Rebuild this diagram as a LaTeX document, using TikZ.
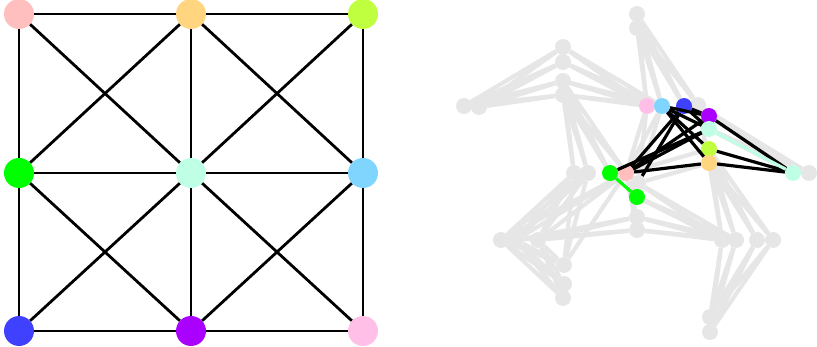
\documentclass[tikz,border=0pt]{standalone}
\usepackage{tikz}
\usetikzlibrary{backgrounds}

\definecolor{vpink}{RGB}{255,191,191}
\definecolor{vorange}{RGB}{255,213,128}
\definecolor{vlime}{RGB}{191,255,64}
\definecolor{vgreen}{RGB}{0,255,0}
\definecolor{vmint}{RGB}{191,255,230}
\definecolor{vsky}{RGB}{128,213,255}
\definecolor{vblue}{RGB}{64,64,255}
\definecolor{vpurple}{RGB}{170,0,255}
\definecolor{vrose}{RGB}{255,191,230}
\definecolor{vgrey}{RGB}{230,230,230}

\begin{document}
\begin{tikzpicture}[
  x=1pt, y=-1pt,
  dot/.style={circle, inner sep=0pt, minimum size=30pt},
  sdot/.style={circle, inner sep=0pt, minimum size=16pt},
  gridedge/.style={line width=2.8pt},
  greyedge/.style={line width=4.2pt, vgrey},
  link/.style={line width=3.2pt}
]
\useasboundingbox (0,0) rectangle (817,347);

% Grid graph
\node[dot, fill=vpink]   (tl) at (19,14)   {};
\node[dot, fill=vorange] (tm) at (191,14)  {};
\node[dot, fill=vlime]   (tr) at (363,14)  {};
\node[dot, fill=vgreen]  (ml) at (19,173)  {};
\node[dot, fill=vmint]   (mc) at (191,173) {};
\node[dot, fill=vsky]    (mr) at (363,173) {};
\node[dot, fill=vblue]   (bl) at (19,331)  {};
\node[dot, fill=vpurple] (bm) at (191,331) {};
\node[dot, fill=vrose]   (br) at (363,331) {};

\foreach \a/\b in {tl/tm, tm/tr, ml/mc, mc/mr, bl/bm, bm/br,
                   tl/ml, ml/bl, tm/mc, mc/bm, tr/mr, mr/br,
                   tl/mc, tm/ml, tm/mr, tr/mc,
                   ml/bm, mc/bl, mc/br, mr/bm}
  \draw[gridedge] (\a) -- (\b);

% Embedded graph: grey part
\foreach \n/\x/\y in {g1/637/14, g2/637/28,
                      g3/563/47, g4/563/62, g5/563/81, g6/563/95,
                      g7/464/106, g8/479/107, g9/698/105, g10/809/173,
                      g11/638/183, g12/574/173, g13/588/173,
                      g14/637/217, g15/637/230,
                      g16/501/240, g17/516/240, g18/538/240,
                      g20/564/265, g21/564/284, g22/563/298,
                      g23/722/240, g24/736/240, g25/757/240, g26/773/240,
                      g27/710/317, g28/710/332}
  \node[sdot, fill=vgrey] (\n) at (\x,\y) {};

% Embedded graph: coloured part
\node[sdot, fill=vrose]   (pi)  at (647,106) {};
\node[sdot, fill=vsky]    (pf)  at (662,106) {};
\node[sdot, fill=vblue]   (pg)  at (684,106) {};
\node[sdot, fill=vpurple] (ph)  at (709,116) {};
\node[sdot, fill=vmint]   (pe)  at (709,129) {};
\node[sdot, fill=vlime]   (pc)  at (709,149) {};
\node[sdot, fill=vorange] (pb)  at (709,163) {};
\node[sdot, fill=vmint]   (pe2) at (793,173) {};
\node[sdot, fill=vgreen]  (pd)  at (610,173) {};
\node[sdot, fill=vpink]   (pa)  at (626,173) {};
\node[sdot, fill=vgreen]  (pd2) at (637,197) {};

\begin{scope}[on background layer]
  \foreach \s in {g1,g2} \foreach \t in {pi,pf,pg,g9}
    \draw[greyedge] (\s) -- (\t);
  \foreach \s in {g3,g4,g5,g6} \foreach \t in {g7,g8,pi,pf}
    \draw[greyedge] (\s) -- (\t);
  \foreach \s in {g5,g6} \foreach \t in {g12,g13,pd,pa}
    \draw[greyedge] (\s) -- (\t);
  \foreach \s in {g12,g13,pa} \foreach \t in {g16,g17,g18,g20}
    \draw[greyedge] (\s) -- (\t);
  \foreach \s in {g20,g21,g22} \foreach \t in {g16,g17,g18}
    \draw[greyedge] (\s) -- (\t);
  \foreach \s in {g14,g15} \foreach \t in {g17,g18,g23,g24,pa}
    \draw[greyedge] (\s) -- (\t);
  \foreach \s in {pd2,g11} \foreach \t in {g23,g24}
    \draw[greyedge] (\s) -- (\t);
  \foreach \s in {pb,pc} \foreach \t in {g23,g24,g25,g26}
    \draw[greyedge] (\s) -- (\t);
  \foreach \s in {g23,g24,g25,g26} \foreach \t in {g27,g28}
    \draw[greyedge] (\s) -- (\t);
  \foreach \s in {g9,ph,pe} \foreach \t in {pe2,g10}
    \draw[greyedge] (\s) -- (\t);
  \foreach \a/\b in {pi/pa, pi/g11, pf/pa, pf/g11, g9/pb, g11/pb, pa/pc}
    \draw[greyedge] (\a) -- (\b);
\end{scope}

% Embedded graph: grid edges
\foreach \a/\b in {pa/pb, pa/pe, pa/ph, pd/pe, pa/pg, g11/pg,
                   pf/pc, pf/pe, pf/ph, pf/pb, pg/ph, pg/pe,
                   ph/pe2, pc/pe2, pb/pe2}
  \draw[link] (\a) -- (\b);
\draw[link, vmint] (pe) -- (pe2);
\draw[link, vgreen] (pd) -- (pd2);

\end{tikzpicture}
\end{document}
